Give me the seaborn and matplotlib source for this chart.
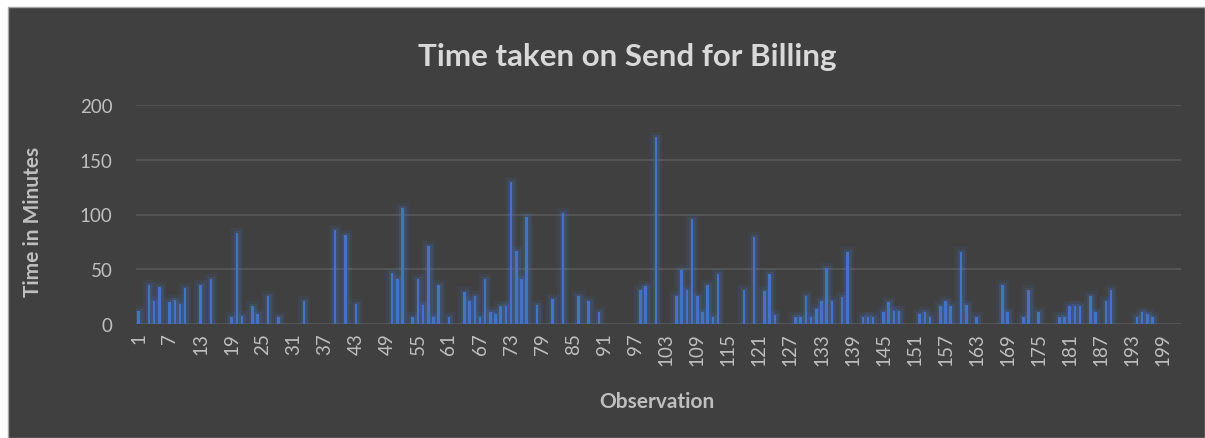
import numpy as np
import pandas as pd
import matplotlib
matplotlib.use("Agg")
import matplotlib.pyplot as plt
import matplotlib.patheffects as pe
from matplotlib.patches import Rectangle
import seaborn as sns

# Time (minutes) spent on "Send for Billing" per observation; 0 = no entry
minutes = [
    12, 0, 36, 21, 34, 0, 20, 22, 18, 33,
    0, 0, 36, 0, 41, 0, 0, 0, 6, 83,
    7, 0, 16, 9, 0, 26, 0, 6, 0, 0,
    0, 0, 21, 0, 0, 0, 0, 0, 86, 0,
    81, 0, 18, 0, 0, 0, 0, 0, 0, 47,
    41, 106, 0, 6, 41, 17, 71, 6, 36, 0,
    6, 0, 0, 29, 21, 26, 6, 41, 11, 9,
    16, 16, 130, 67, 41, 98, 0, 17, 0, 0,
    23, 0, 101, 0, 0, 26, 0, 21, 0, 11,
    0, 0, 0, 0, 0, 0, 0, 31, 35, 0,
    171, 0, 0, 0, 26, 49, 31, 96, 26, 11,
    36, 6, 46, 0, 0, 0, 0, 31, 0, 79,
    0, 30, 46, 8, 0, 0, 0, 6, 6, 26,
    6, 14, 21, 51, 21, 0, 25, 66, 0, 0,
    6, 6, 6, 0, 11, 20, 12, 12, 0, 0,
    0, 9, 11, 6, 0, 16, 21, 16, 0, 66,
    17, 0, 6, 0, 0, 0, 0, 36, 11, 0,
    0, 6, 31, 0, 11, 0, 0, 0, 6, 6,
    16, 16, 16, 0, 26, 11, 0, 21, 31, 0,
    0, 0, 0, 6, 11, 9, 6, 0, 0, 0,
    0, 0,
]
observations = list(range(1, len(minutes) + 1))
y_ticks = [0, 50, 100, 150, 200]

title = "Time taken on Send for Billing"
x_label = "Observation"
y_label = "Time in Minutes"

BG = "#404040"
BAR = "#4472C4"
TXT = "#BFBFBF"
GRID = "#595959"

sns.set_theme(style="dark")
plt.rcParams["font.family"] = ["Lato", "DejaVu Sans"]

W, H = 1205, 439
fig = plt.figure(figsize=(W / 100, H / 100), dpi=100)
fig.patch.set_facecolor("white")

# dark chart frame behind everything
frame = Rectangle((8 / W, 0), 1 - 8 / W, 1 - 8 / H, transform=fig.transFigure,
                  facecolor=BG, edgecolor="#A6A6A6", linewidth=1.0, zorder=-10)
fig.patches.append(frame)

ax = fig.add_axes([136 / W, (H - 325) / H, 1045 / W, 219 / H])
ax.set_zorder(1)
ax.set_facecolor(BG)

df = pd.DataFrame({"obs": observations, "minutes": minutes})
sns.barplot(data=df, x="obs", y="minutes", order=observations, color=BAR,
            saturation=1, width=0.5, errorbar=None, ax=ax, zorder=3)

for patch in ax.patches:
    patch.set_edgecolor("none")
    if patch.get_height() > 0:
        patch.set_path_effects([
            pe.Stroke(linewidth=7, foreground=BAR, alpha=0.10),
            pe.Stroke(linewidth=3.5, foreground=BAR, alpha=0.20),
            pe.Normal(),
        ])

ax.set_ylim(0, 200)
ax.set_xlim(-0.5, len(observations) - 0.5)
ax.set_yticks(y_ticks)
ax.set_yticklabels([str(v) for v in y_ticks])
ax.yaxis.grid(True, color=GRID, linewidth=1.2, zorder=0)
ax.xaxis.grid(False)
ax.set_axisbelow(True)

tick_pos = list(range(0, len(observations), 6))
ax.set_xticks(tick_pos)
ax.set_xticklabels([str(observations[i]) for i in tick_pos], rotation=90)

ax.tick_params(axis="both", length=0, colors=TXT, labelsize=13.5)
ax.tick_params(axis="x", pad=6)
ax.tick_params(axis="y", pad=17)
for s in ax.spines.values():
    s.set_visible(False)

ax.set_xlabel(x_label, color=TXT, fontsize=15, fontweight="bold", va="center")
ax.set_ylabel(y_label, color=TXT, fontsize=15, fontweight="bold", va="center")
ax.xaxis.set_label_coords((657 - 136) / 1045, (325 - 402) / 219)
ax.yaxis.set_label_coords((33 - 136) / 1045, (325 - 222) / 219)

fig.text(627 / W, 1 - 57 / H, title, ha="center", va="center", fontsize=22.5,
         fontweight="bold", color="#D9D9D9")

fig.savefig("out.png", dpi=100, facecolor=fig.get_facecolor())
